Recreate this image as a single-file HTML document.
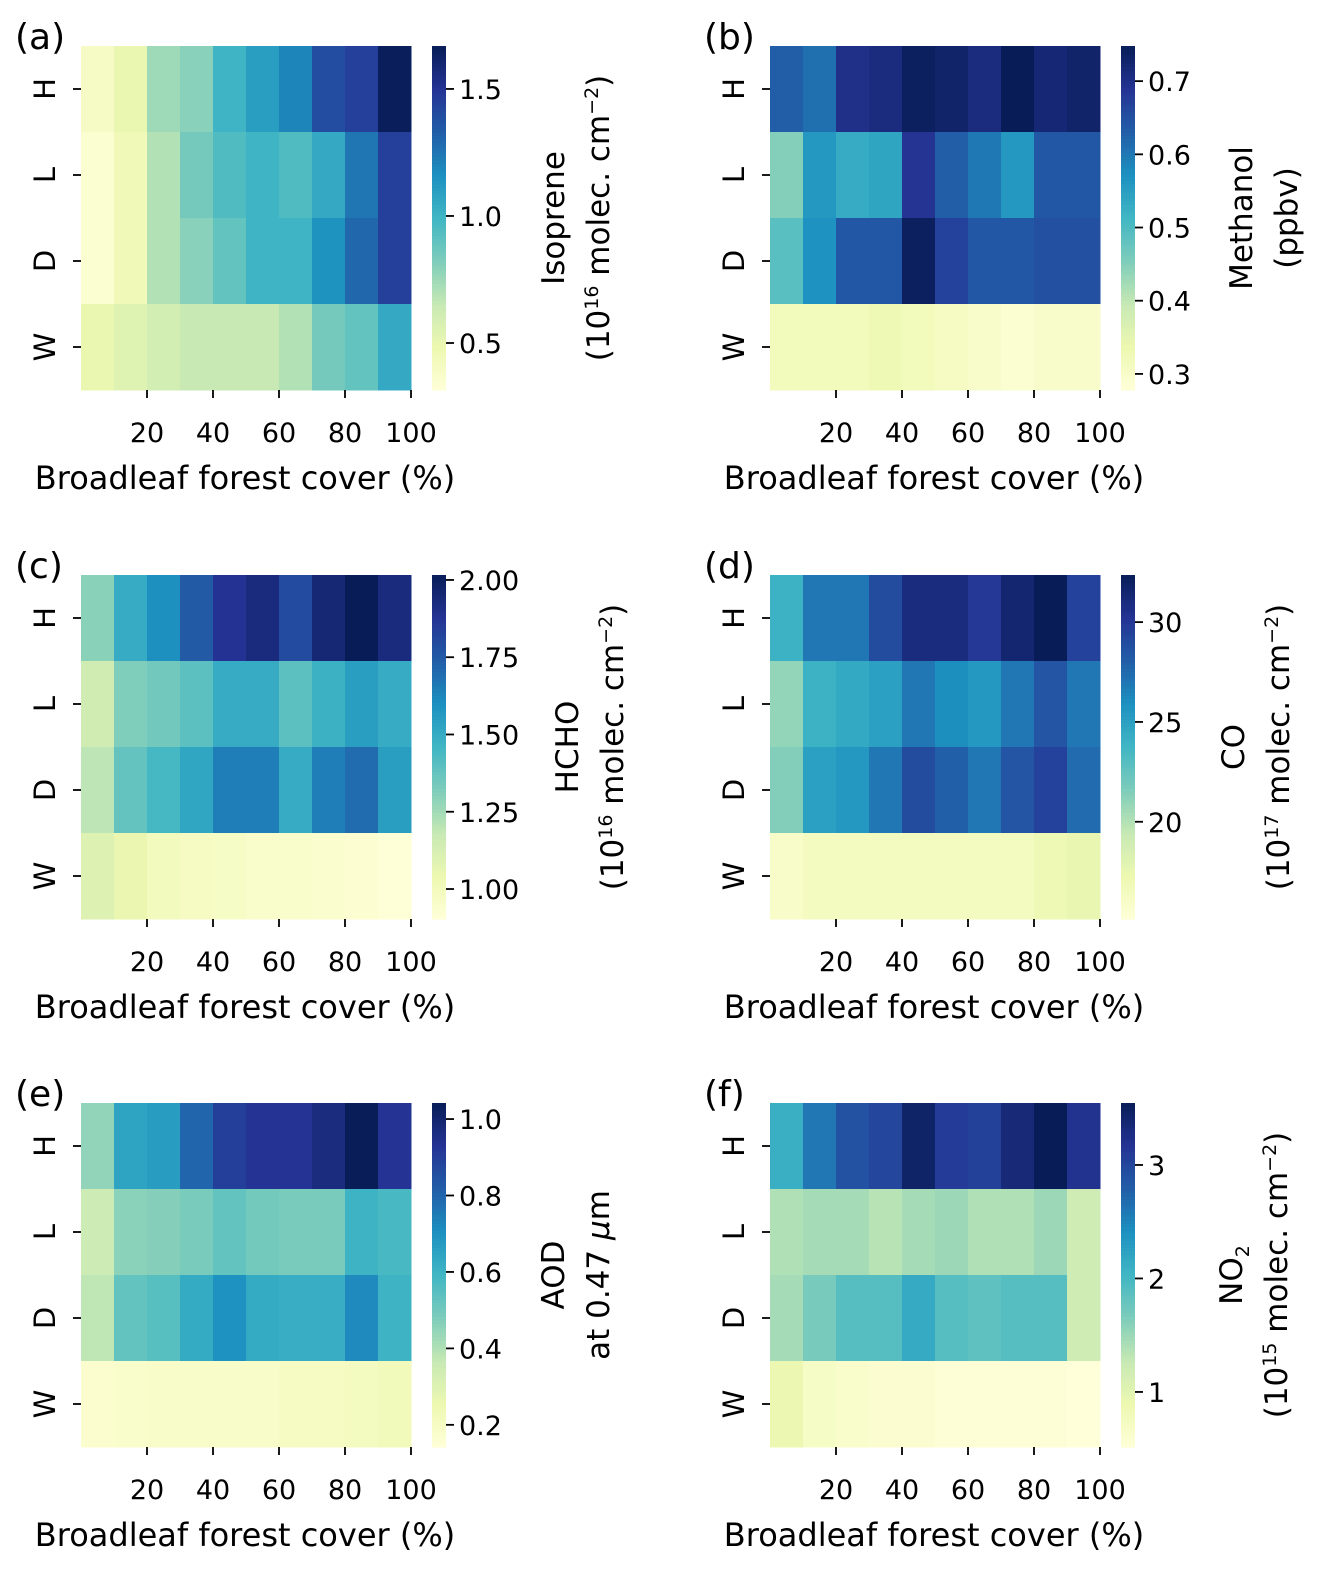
<!DOCTYPE html>
<html><head><meta charset="utf-8"><style>
body{margin:0;background:#fff}
svg text{font-family:"DejaVu Sans","Liberation Sans",sans-serif;fill:#000}
</style></head><body>
<svg id="chart" xmlns="http://www.w3.org/2000/svg" width="1337" height="1591" viewBox="0 0 1337 1591"></svg>
<script>
const categories = [10,20,30,40,50,60,70,80,90,100];
const rowLabels = ["H","L","D","W"];
const xTicks = [20,40,60,80,100];
const isopreneValues = [
 [0.4,0.5,0.75,0.8,1.0,1.1,1.2,1.4,1.45,1.66],
 [0.35,0.45,0.7,0.85,0.95,1.0,0.95,1.05,1.25,1.45],
 [0.35,0.45,0.7,0.8,0.9,1.0,1.0,1.15,1.3,1.45],
 [0.5,0.55,0.6,0.65,0.65,0.65,0.7,0.85,0.9,1.05]];
const methanolValues = [
 [0.63,0.61,0.70,0.71,0.74,0.73,0.71,0.75,0.72,0.73],
 [0.45,0.56,0.53,0.54,0.69,0.63,0.60,0.56,0.64,0.64],
 [0.49,0.57,0.64,0.64,0.74,0.67,0.64,0.64,0.65,0.65],
 [0.32,0.32,0.32,0.33,0.32,0.31,0.30,0.29,0.30,0.30]];
const hchoValues = [
 [1.3,1.5,1.6,1.75,1.88,1.93,1.8,1.95,2.02,1.93],
 [1.15,1.32,1.35,1.4,1.5,1.5,1.4,1.48,1.55,1.5],
 [1.2,1.38,1.45,1.52,1.65,1.65,1.5,1.65,1.7,1.55],
 [1.1,1.05,1.0,0.98,0.97,0.95,0.95,0.94,0.93,0.91]];
const coValues = [
 [24,27,27,29,31,31,30,31.5,32.4,29.5],
 [21,24,24.5,25,27,26,25.5,27,28.5,27],
 [21.5,25,25.5,27,29,28,27,28.5,29.5,27.5],
 [16,16.5,16.5,16.5,16.5,16.5,16.5,16.5,17,17.5]];
const aodValues = [
 [0.45,0.65,0.67,0.8,0.9,0.93,0.93,0.97,1.04,0.93],
 [0.35,0.46,0.47,0.49,0.53,0.5,0.49,0.49,0.6,0.58],
 [0.38,0.53,0.55,0.63,0.7,0.63,0.62,0.62,0.72,0.6],
 [0.17,0.18,0.19,0.19,0.19,0.19,0.2,0.2,0.21,0.23]];
const no2Values = [
 [2.1,2.6,2.9,3.0,3.45,3.1,3.05,3.35,3.55,3.2],
 [1.4,1.45,1.45,1.35,1.45,1.5,1.4,1.4,1.5,1.2],
 [1.45,1.7,1.9,1.9,2.15,1.9,1.85,1.9,1.9,1.2],
 [0.9,0.7,0.65,0.6,0.6,0.55,0.55,0.55,0.55,0.5]];
const isopreneTicks = [0.5,1.0,1.5];
const methanolTicks = [0.3,0.4,0.5,0.6,0.7];
const hchoTicks = [1.00,1.25,1.50,1.75,2.00];
const coTicks = [20,25,30];
const aodTicks = [0.2,0.4,0.6,0.8,1.0];
const no2Ticks = [1,2,3];

const cmap=["#ffffd9","#edf8b1","#c7e9b4","#7fcdbb","#41b6c4","#1d91c0","#225ea8","#253494","#081d58"];
function hex(h){return [1,3,5].map(i=>parseInt(h.substr(i,2),16));}
function color(t){t=Math.max(0,Math.min(1,t));const p=t*8,i=Math.min(7,Math.floor(p)),f=p-i;
 const a=hex(cmap[i]),b=hex(cmap[i+1]);return "rgb("+a.map((v,k)=>Math.round(v+(b[k]-v)*f)).join(",")+")";}
const NS="http://www.w3.org/2000/svg",svg=document.getElementById("chart");
function el(tag,attrs,parent,txt){const e=document.createElementNS(NS,tag);for(const k in attrs)e.setAttribute(k,attrs[k]);if(txt!==undefined)e.innerHTML=txt;(parent||svg).appendChild(e);return e;}
const sup=n=>"<tspan dy='-11' font-size='19'>"+n+"</tspan><tspan dy='11'>";
const units=n=>"(10"+sup(n)+" molec. cm</tspan>"+"<tspan dy='-11' font-size='19'>−2</tspan><tspan dy='11'>)</tspan>";
const panels=[
 {id:"a",x:81,y:46,vals:isopreneValues,vmin:0.315,vmax:1.669,ticks:isopreneTicks,dec:1,off:121,l1:"Isoprene",l2:units(16)},
 {id:"b",x:770,y:46,vals:methanolValues,vmin:0.278,vmax:0.748,ticks:methanolTicks,dec:1,off:120,l1:"Methanol",l2:"(ppbv)"},
 {id:"c",x:81,y:575,vals:hchoValues,vmin:0.903,vmax:2.016,ticks:hchoTicks,dec:2,off:135,l1:"HCHO",l2:units(16)},
 {id:"d",x:770,y:575,vals:coValues,vmin:15.13,vmax:32.36,ticks:coTicks,dec:0,off:112,l1:"CO",l2:units(17)},
 {id:"e",x:81,y:1103,vals:aodValues,vmin:0.142,vmax:1.042,ticks:aodTicks,dec:1,off:121,l1:"AOD",l2:"at 0.47 <tspan font-style='italic'>μ</tspan>m"},
 {id:"f",x:770,y:1103,vals:no2Values,vmin:0.515,vmax:3.546,ticks:no2Ticks,dec:0,off:110,l1:"NO<tspan dy='7' font-size='19'>2</tspan>",l2:units(15)}
];
const W=330,H=344,cw=W/categories.length,rh=H/rowLabels.length;
panels.forEach(p=>{
 const g=el("g",{});
 
 
 const xs=i=>p.x+i*cw, ys=j=>p.y+j*rh;
 const norm=v=>(v-p.vmin)/(p.vmax-p.vmin);
 p.vals.forEach((row,j)=>row.forEach((v,i)=>{
  const r=el("rect",{x:xs(i),y:ys(j),width:cw+0.5,height:rh+0.5,fill:color(norm(v))},g);
  
  
 }));
 const lab=el("text",{x:p.x-66,y:p.y+3,"font-size":36},g,"("+p.id+")");
 
 
 rowLabels.forEach((r,j)=>{
  const cy=ys(j)+rh/2;
  el("line",{x1:p.x-8,x2:p.x,y1:cy,y2:cy,stroke:"#000","stroke-width":1.8},g);
  const t=el("text",{transform:`translate(${p.x-34},${cy}) rotate(-90)`,"font-size":29,"text-anchor":"middle","dominant-baseline":"middle"},g,r);
  
  
 });
 xTicks.forEach(v=>{
  const i=categories.indexOf(v)+1, x=xs(i);
  el("line",{x1:x,x2:x,y1:p.y+H,y2:p.y+H+8,stroke:"#000","stroke-width":1.8},g);
  const t=el("text",{x:x,y:p.y+H+52,"font-size":27,"text-anchor":"middle"},g,v);
  
  
 });
 const xl=el("text",{x:p.x+164,y:p.y+H+99,"font-size":32,"text-anchor":"middle"},g,"Broadleaf forest cover (%)");
 
 
 const cx=p.x+351,cbw=14,N=100;
 for(let k=0;k<N;k++){
  el("rect",{x:cx,y:p.y+H-(k+1)*H/N,width:cbw,height:H/N+0.6,fill:color((k+0.5)/N)},g);
 }
 const cb=el("rect",{x:cx,y:p.y,width:cbw,height:H,fill:"none"},g);
 
 
 p.ticks.forEach(v=>{
  const y=p.y+H-norm(v)*H;
  el("line",{x1:cx+cbw,x2:cx+cbw+8,y1:y,y2:y,stroke:"#000","stroke-width":1.8},g);
  const t=el("text",{x:cx+cbw+13,y:y+10,"font-size":27},g,v.toFixed(p.dec));
  
  
 });
 const my=p.y+H/2;
 const t1=el("text",{transform:`translate(${cx+p.off+11},${my}) rotate(-90)`,"font-size":31,"text-anchor":"middle"},g,p.l1);
 
 
 const t2=el("text",{transform:`translate(${cx+p.off+56},${my}) rotate(-90)`,"font-size":31,"text-anchor":"middle"},g,p.l2);
 
 
});
</script>
</body></html>
